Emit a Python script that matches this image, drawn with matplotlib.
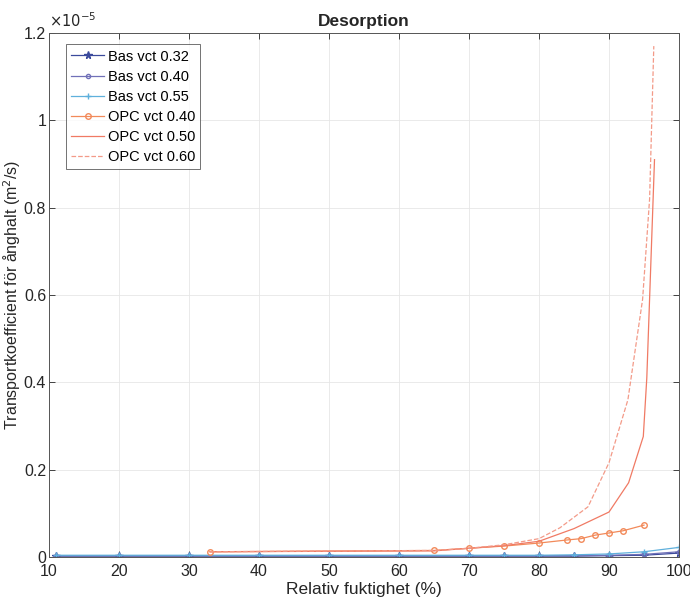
# desorption.py
# Transportkoefficient vs relativ fuktighet, desorption curves

import matplotlib.pyplot as plt
from matplotlib.ticker import FuncFormatter

plt.rcParams['font.family'] = ['Liberation Sans', 'DejaVu Sans']

#----------------- data (transport coefficient in units of 1e-5 m2/s)
rh_bas = [11, 20, 30, 40, 50, 60, 70, 75, 80, 85, 90, 95, 100]
bas_032 = [0.002, 0.002, 0.002, 0.002, 0.002, 0.002, 0.002, 0.002, 0.002, 0.002, 0.003, 0.004, 0.009]
bas_040 = [0.003, 0.003, 0.003, 0.003, 0.003, 0.003, 0.003, 0.003, 0.003, 0.003, 0.004, 0.006, 0.012]
bas_055 = [0.004, 0.004, 0.004, 0.004, 0.004, 0.004, 0.004, 0.004, 0.004, 0.005, 0.007, 0.012, 0.022]

rh_opc040 = [33, 65, 70, 75, 80, 84, 86, 88, 90, 92, 95]
opc_040 = [0.012, 0.015, 0.020, 0.025, 0.032, 0.039, 0.042, 0.050, 0.055, 0.060, 0.073]

rh_opc050 = [33, 65, 70, 75, 80, 85, 90, 92.8, 94.9, 95.4, 96.5]
opc_050 = [0.012, 0.014, 0.020, 0.026, 0.036, 0.065, 0.103, 0.170, 0.276, 0.410, 0.910]

rh_opc060 = [33, 65, 70, 75, 80, 83, 87, 90, 92.7, 94.8, 95.8, 96.4]
opc_060 = [0.012, 0.015, 0.020, 0.028, 0.042, 0.067, 0.115, 0.216, 0.360, 0.590, 0.820, 1.170]

#----------------- plot
fig = plt.figure(figsize=(6.9, 6.01), dpi=100)
ax = fig.add_axes([49/690, 44/601, 630/690, 524/601])

ax.plot(rh_bas, bas_032, '-*', color='#3b4a9c', lw=0.9, ms=5.5, label='Bas vct 0.32')
ax.plot(rh_bas, bas_040, '-o', color='#7070b8', lw=0.9, ms=3, mfc='none', label='Bas vct 0.40')
ax.plot(rh_bas, bas_055, '-+', color='#5fb0dc', lw=0.9, ms=4, label='Bas vct 0.55')
ax.plot(rh_opc040, opc_040, '-o', color='#f28a5a', lw=0.9, ms=4, mfc='none', label='OPC vct 0.40')
ax.plot(rh_opc050, opc_050, '-', color='#f07a64', lw=0.9, label='OPC vct 0.50')
ax.plot(rh_opc060, opc_060, '--', color='#f39a88', lw=0.9, label='OPC vct 0.60')

ax.set_xlim(10, 100)
ax.set_ylim(0, 1.2)
ax.set_xticks(range(10, 101, 10))
ax.set_yticks([0, 0.2, 0.4, 0.6, 0.8, 1.0, 1.2])
ax.yaxis.set_major_formatter(FuncFormatter(lambda v, p: f'{v:g}'))
ax.tick_params(direction='in', top=True, right=True, labelsize=11.5,
               colors='#262626', length=4, width=0.6)
ax.tick_params(axis='x', pad=5)
ax.tick_params(axis='y', pad=2)
ax.grid(True, color='#e6e6e6', lw=0.6)
for s in ax.spines.values():
    s.set_color('#555555')
    s.set_linewidth(0.7)

ax.set_xlabel('Relativ fuktighet (%)', fontsize=12.5, color='#262626', labelpad=2)
ax.set_ylabel('Transportkoefficient för ånghalt (m$^2$/s)', fontsize=11.5, color='#262626')
ax.yaxis.set_label_coords(-26/630, 0.5)
ax.set_title('Desorption', fontsize=12.5, fontweight='bold', color='#262626', pad=5)
ax.text(0.0, 1.005, r'$\times10^{-5}$', transform=ax.transAxes, fontsize=10.5,
        color='#262626', ha='left', va='bottom')

leg = ax.legend(loc='upper left', fontsize=10.5, frameon=True, fancybox=False,
                edgecolor='#333333', handlelength=2.2, borderpad=0.35, labelspacing=0.42,
                handletextpad=0.3, bbox_to_anchor=(0.016, 0.992))
leg.get_frame().set_linewidth(0.6)

fig.savefig('out.png', dpi=100)
